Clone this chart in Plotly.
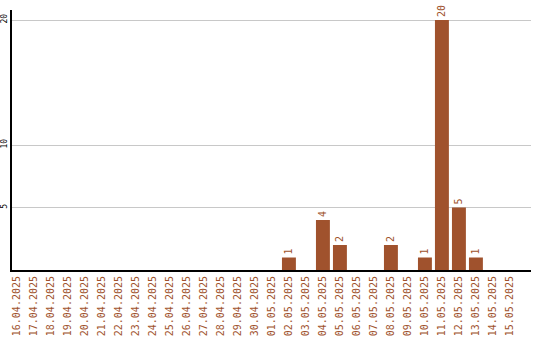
import plotly.graph_objects as go

# Daily counts, 16.04.2025 – 15.05.2025
dates = [
    "16.04.2025", "17.04.2025", "18.04.2025", "19.04.2025", "20.04.2025",
    "21.04.2025", "22.04.2025", "23.04.2025", "24.04.2025", "25.04.2025",
    "26.04.2025", "27.04.2025", "28.04.2025", "29.04.2025", "30.04.2025",
    "01.05.2025", "02.05.2025", "03.05.2025", "04.05.2025", "05.05.2025",
    "06.05.2025", "07.05.2025", "08.05.2025", "09.05.2025", "10.05.2025",
    "11.05.2025", "12.05.2025", "13.05.2025", "14.05.2025", "15.05.2025",
]
counts = [
    0, 0, 0, 0, 0,
    0, 0, 0, 0, 0,
    0, 0, 0, 0, 0,
    0, 1, 0, 4, 2,
    0, 0, 2, 0, 1,
    20, 5, 1, 0, 0,
]
y_ticks = [5, 10, 20]

bar_color = "#A0522D"
mono = "DejaVu Sans Mono"

labels = [str(v) if v > 0 else "" for v in counts]

fig = go.Figure(
    go.Bar(
        x=list(range(len(dates))),
        y=counts,
        marker=dict(color=bar_color, line=dict(width=0)),
        width=0.82,
        text=labels,
        textposition="outside",
        textangle=-90,
        textfont=dict(family=mono, size=10, color=bar_color),
        cliponaxis=False,
    )
)

fig.update_layout(
    width=540,
    height=340,
    margin=dict(l=12, r=9, t=10, b=70),
    paper_bgcolor="white",
    plot_bgcolor="white",
    showlegend=False,
    bargap=0.18,
)

fig.update_xaxes(
    tickmode="array",
    tickvals=list(range(len(dates))),
    ticktext=dates,
    tickangle=-90,
    tickfont=dict(family=mono, size=10, color=bar_color),
    range=[-0.29, 30.24],
    showline=True,
    linecolor="black",
    linewidth=2,
    showgrid=False,
    ticks="",
    zeroline=False,
    automargin=False,
)

fig.update_yaxes(
    tickmode="array",
    tickvals=y_ticks,
    ticktext=[str(t) for t in y_ticks],
    tickangle=-90,
    tickfont=dict(family=mono, size=8, color="black"),
    range=[0, 20.8],
    showline=True,
    linecolor="black",
    linewidth=2,
    showgrid=True,
    gridcolor="#c8c8c8",
    gridwidth=1,
    ticks="",
    zeroline=False,
    ticklabelstandoff=0,
    automargin=False,
)

fig.write_html("out.html")
